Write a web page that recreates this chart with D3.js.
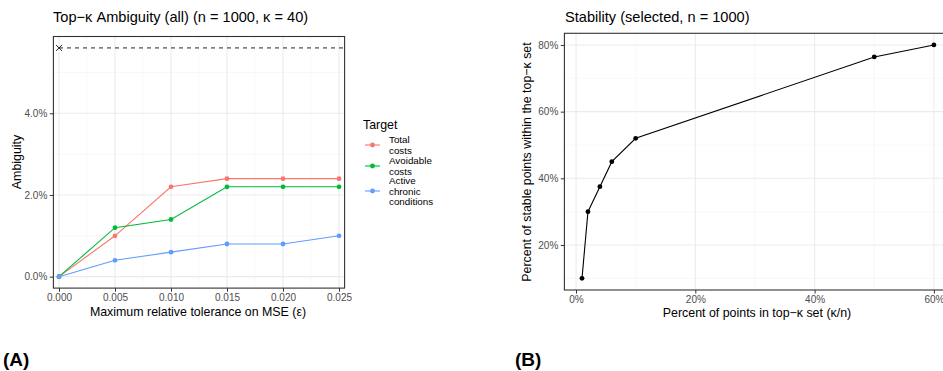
<!DOCTYPE html>
<html>
<head>
<meta charset="utf-8">
<script src="https://cdn.jsdelivr.net/npm/d3@7"></script>
<style>
  body { margin: 0; background: #fff; }
  text { font-family: "Liberation Sans", Arial, sans-serif; }
</style>
</head>
<body>
<svg id="fig" width="943" height="371"></svg>
<script>
// ---- data: panel A ----
const epsilon = [0, 0.005, 0.010, 0.015, 0.020, 0.025];
const totalCosts = [0, 1.0, 2.2, 2.4, 2.4, 2.4];
const avoidableCosts = [0, 1.2, 1.4, 2.2, 2.2, 2.2];
const chronicConditions = [0, 0.4, 0.6, 0.8, 0.8, 1.0];
const baselineAmbiguity = 5.6;
const targetNames = [["Total", "costs"], ["Avoidable", "costs"], ["Active", "chronic", "conditions"]];
const targetColors = ["#F8766D", "#00BA38", "#619CFF"];
const xTicksA = [0, 0.005, 0.010, 0.015, 0.020, 0.025];
const yTicksA = [0, 2, 4];

// ---- data: panel B ----
const topKPct = [1, 2, 4, 6, 10, 50, 60];
const stablePct = [10, 30, 37.5, 45, 52, 76.4, 80];
const xTicksB = [0, 20, 40, 60];
const yTicksB = [20, 40, 60, 80];

const svg = d3.select("#fig");
const gridMajor = "#EBEBEB", gridMinor = "#F3F3F3", ink = "#333333", tickText = "#4D4D4D";

function panel(x, y, xt, yt, xminor, yminor, xfmt, yfmt) {
  const g = svg.append("g");
  const [x0, x1] = x.range(), [y0, y1] = y.range();
  g.selectAll(".gmx").data(xminor).join("line")
    .attr("x1", d => x(d)).attr("x2", d => x(d)).attr("y1", y0).attr("y2", y1)
    .attr("stroke", gridMinor).attr("stroke-width", 0.6);
  g.selectAll(".gmy").data(yminor).join("line")
    .attr("y1", d => y(d)).attr("y2", d => y(d)).attr("x1", x0).attr("x2", x1)
    .attr("stroke", gridMinor).attr("stroke-width", 0.6);
  g.selectAll(".gx").data(xt).join("line")
    .attr("x1", d => x(d)).attr("x2", d => x(d)).attr("y1", y0).attr("y2", y1)
    .attr("stroke", gridMajor).attr("stroke-width", 1.1);
  g.selectAll(".gy").data(yt).join("line")
    .attr("y1", d => y(d)).attr("y2", d => y(d)).attr("x1", x0).attr("x2", x1)
    .attr("stroke", gridMajor).attr("stroke-width", 1.1);

  const ax = g.append("g").attr("transform", `translate(0,${y0})`)
    .call(d3.axisBottom(x).tickValues(xt).tickFormat(xfmt).tickSize(3.6).tickPadding(2.5));
  const ay = g.append("g").attr("transform", `translate(${x0},0)`)
    .call(d3.axisLeft(y).tickValues(yt).tickFormat(yfmt).tickSize(3.6).tickPadding(2.5));
  [ax, ay].forEach(a => {
    a.select(".domain").remove();
    a.selectAll("line").attr("stroke", ink);
    a.selectAll("text").attr("fill", tickText).style("font-size", "10px")
      .style("font-family", "'Liberation Sans', Arial, sans-serif");
  });
  g.append("rect").attr("x", x0).attr("y", y1).attr("width", x1 - x0).attr("height", y0 - y1)
    .attr("fill", "none").attr("stroke", ink).attr("stroke-width", 1.1);
  return g;
}

// ==== Panel A ====
const xA = d3.scaleLinear().domain([-0.0005, 0.0255]).range([53.4, 344.6]);
const yA = d3.scaleLinear().domain([-0.28, 5.88]).range([288.1, 36.5]);
const gA = panel(xA, yA, xTicksA, yTicksA,
  [0.0025, 0.0075, 0.0125, 0.0175, 0.0225], [1, 3, 5],
  d3.format(".3f"), d => d.toFixed(1) + "%");

gA.append("line")
  .attr("x1", xA(0)).attr("x2", xA.range()[1])
  .attr("y1", yA(baselineAmbiguity)).attr("y2", yA(baselineAmbiguity))
  .attr("stroke", "#222").attr("stroke-width", 1).attr("stroke-dasharray", "4,4");
const cx = xA(0), cy = yA(baselineAmbiguity);
gA.append("path").attr("d", `M${cx - 3},${cy - 3}L${cx + 3},${cy + 3}M${cx - 3},${cy + 3}L${cx + 3},${cy - 3}`)
  .attr("stroke", "#222").attr("stroke-width", 1);

const seriesA = [totalCosts, avoidableCosts, chronicConditions];
const lineA = d3.line().x((d, i) => xA(epsilon[i])).y(d => yA(d));
seriesA.forEach((vals, k) => {
  gA.append("path").datum(vals).attr("d", lineA)
    .attr("fill", "none").attr("stroke", targetColors[k]).attr("stroke-width", 1.1);
  gA.selectAll(null).data(vals).join("circle")
    .attr("cx", (d, i) => xA(epsilon[i])).attr("cy", d => yA(d)).attr("r", 2.4)
    .attr("fill", targetColors[k]);
});

svg.append("text").attr("x", 53).attr("y", 22).style("font-size", "14.6px").attr("fill", "#000")
  .text("Top\u2212\u03ba Ambiguity (all) (n = 1000, \u03ba = 40)");
svg.append("text").attr("x", 198).attr("y", 316).attr("text-anchor", "middle")
  .style("font-size", "12.4px").attr("fill", "#000").text("Maximum relative tolerance on MSE (\u03b5)");
svg.append("text").attr("transform", "translate(21,162) rotate(-90)").attr("text-anchor", "middle")
  .style("font-size", "12.4px").attr("fill", "#000").text("Ambiguity");

// legend
const leg = svg.append("g");
leg.append("text").attr("x", 363).attr("y", 129).style("font-size", "12.4px").text("Target");
const keyY = [145, 166, 191];
const labelTop = [143, 164, 184];
targetNames.forEach((lines, k) => {
  leg.append("line").attr("x1", 365).attr("x2", 380).attr("y1", keyY[k]).attr("y2", keyY[k])
    .attr("stroke", targetColors[k]).attr("stroke-width", 1.1);
  leg.append("circle").attr("cx", 372.5).attr("cy", keyY[k]).attr("r", 2.4).attr("fill", targetColors[k]);
  lines.forEach((t, j) => {
    leg.append("text").attr("x", 389).attr("y", labelTop[k] + j * 10.5)
      .style("font-size", "9.8px").text(t);
  });
});

// ==== Panel B ====
const xB = d3.scaleLinear().domain([-1.95, 62.95]).range([564.4, 951.5]);
const yB = d3.scaleLinear().domain([6.5, 83.5]).range([290, 33.3]);
const gB = panel(xB, yB, xTicksB, yTicksB, [10, 30, 50], [10, 30, 50, 70],
  d => d + "%", d => d + "%");

const lineB = d3.line().x((d, i) => xB(topKPct[i])).y(d => yB(d));
gB.append("path").datum(stablePct).attr("d", lineB)
  .attr("fill", "none").attr("stroke", "#000").attr("stroke-width", 1.1);
gB.selectAll(null).data(stablePct).join("circle")
  .attr("cx", (d, i) => xB(topKPct[i])).attr("cy", d => yB(d)).attr("r", 2.4).attr("fill", "#000");

svg.append("text").attr("x", 565).attr("y", 22).style("font-size", "14.6px")
  .text("Stability (selected, n = 1000)");
svg.append("text").attr("x", 757).attr("y", 317).attr("text-anchor", "middle")
  .style("font-size", "12.4px").text("Percent of points in top\u2212\u03ba set (\u03ba/n)");
svg.append("text").attr("transform", "translate(531,162) rotate(-90)").attr("text-anchor", "middle")
  .style("font-size", "12.4px").text("Percent of stable points within the top\u2212\u03ba set");

// panel tags
svg.append("text").attr("x", 3).attr("y", 366).style("font-size", "19px").style("font-weight", "bold").text("(A)");
svg.append("text").attr("x", 515).attr("y", 366).style("font-size", "19px").style("font-weight", "bold").text("(B)");
</script>
</body>
</html>
